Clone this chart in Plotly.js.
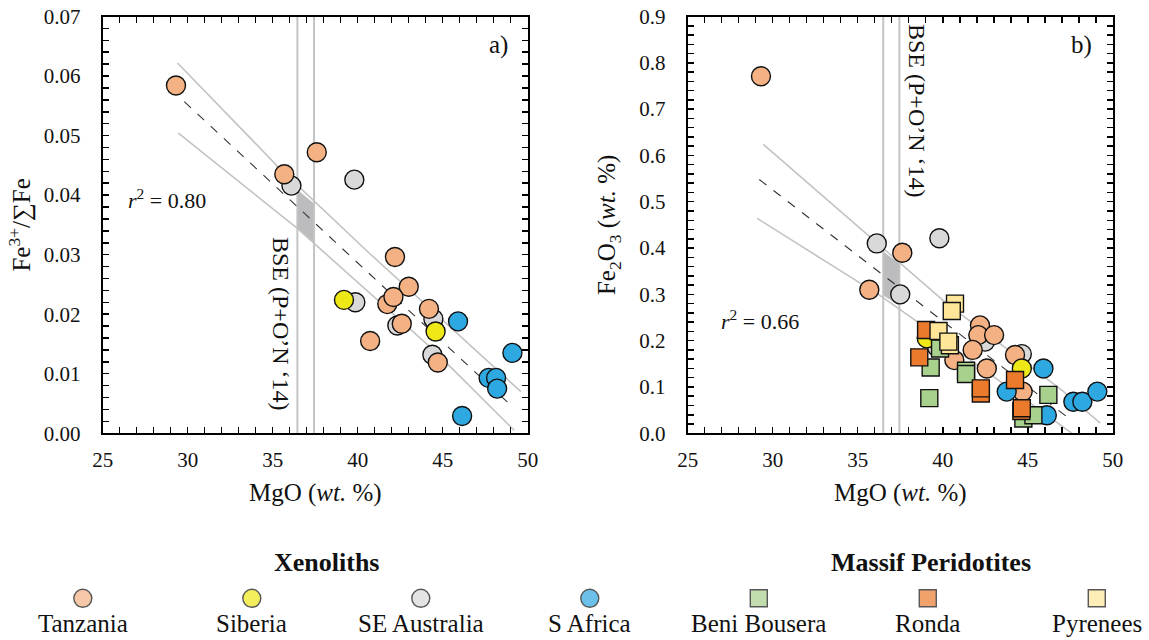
<!DOCTYPE html>
<html><head><meta charset="utf-8">
<script src="https://cdn.plot.ly/plotly-3.0.1.min.js"></script>
<style>html,body{margin:0;padding:0;background:#fff;}#chart{width:1149px;height:640px;}</style>
</head><body><div id="chart"></div>
<script>
// ---------------- DATA ----------------
const categories = ['Tanzania', 'Siberia', 'SE Australia', 'S Africa', 'Beni Bousera', 'Ronda', 'Pyrenees'];
const groupHeaders = ['Xenoliths', 'Massif Peridotites'];

// Panel a) Fe3+/ΣFe vs MgO (wt.%)
const aTanzaniaMgO = [29.31, 37.59, 35.68, 42.19, 43.0, 41.74, 42.1, 44.19, 42.59, 40.73, 44.71];
const aTanzaniaFe  = [0.0584, 0.0472, 0.0435, 0.0296, 0.0246, 0.0217, 0.0229, 0.0209, 0.0184, 0.0155, 0.0119];
const aSiberiaMgO  = [39.19, 44.58];
const aSiberiaFe   = [0.0224, 0.0171];
const aSEAusMgO    = [36.1, 39.8, 39.86, 44.45, 42.33, 44.39];
const aSEAusFe     = [0.0416, 0.0426, 0.0220, 0.0192, 0.0181, 0.0132];
const aSAfricaMgO  = [45.9, 49.1, 47.7, 48.14, 48.2, 46.14];
const aSAfricaFe   = [0.0188, 0.0135, 0.0093, 0.0093, 0.0075, 0.0029];
// regression (dashed) and confidence band lines, panel a
const aFitMgO   = [29.8, 49.12];
const aFitFe    = [0.0557, 0.0044];
const aUpperMgO = [29.4, 35.4, 40.7, 49.6];
const aUpperFe  = [0.0622, 0.0445, 0.0302, 0.0070];
const aLowerMgO = [29.45, 36.45, 44.45, 49.2];
const aLowerFe  = [0.0504, 0.0344, 0.0140, 0.0005];
const aBseMgO   = [36.45, 37.43];
const aBseBandFe = [0.0409, 0.0386, 0.0319, 0.0344]; // top-left, top-right, bottom-right, bottom-left
const aR2 = 0.80;

// Panel b) Fe2O3 (wt.%) vs MgO (wt.%)
const bTanzaniaMgO = [29.31, 37.62, 35.68, 42.19, 42.09, 43.02, 40.68, 41.76, 42.59, 44.25, 44.7];
const bTanzaniaFe  = [0.771, 0.390, 0.310, 0.233, 0.212, 0.212, 0.158, 0.180, 0.140, 0.169, 0.090];
const bSiberiaMgO  = [39.06, 44.65];
const bSiberiaFe   = [0.205, 0.140];
const bSEAusMgO    = [36.12, 39.8, 37.5, 39.65, 42.49, 44.65];
const bSEAusFe     = [0.410, 0.421, 0.300, 0.187, 0.198, 0.171];
const bSAfricaMgO  = [45.92, 43.76, 46.12, 47.68, 48.21, 49.09];
const bSAfricaFe   = [0.140, 0.090, 0.039, 0.068, 0.068, 0.090];
const bBeniMgO     = [39.84, 39.29, 39.21, 41.37, 41.37, 46.21, 44.74, 45.33];
const bBeniFe      = [0.183, 0.142, 0.076, 0.135, 0.128, 0.083, 0.032, 0.039];
const bRondaMgO    = [39.02, 38.62, 42.24, 42.24, 44.25, 44.62, 44.65];
const bRondaFe     = [0.223, 0.164, 0.086, 0.097, 0.115, 0.048, 0.054];
const bPyreneesMgO = [40.72, 40.53, 39.75, 40.42, 40.33];
const bPyreneesFe  = [0.280, 0.264, 0.221, 0.190, 0.198];
const bFitMgO   = [29.21, 47.6];
const bFitFe    = [0.548, 0.027];
const bUpperMgO = [29.45, 40.24, 47.0, 49.26];
const bUpperFe  = [0.624, 0.280, 0.093, 0.022];
const bLowerMgO = [29.09, 36.41, 38.66, 47.6];
const bLowerFe  = [0.464, 0.295, 0.237, 0.0];
const bBseMgO   = [36.5, 37.45];
const bBseBandFe = [0.392, 0.367, 0.275, 0.298];
const bR2 = 0.66;

const xRange = [25, 50];
const aYRange = [0, 0.07];
const bYRange = [0, 0.9];

// ---------------- STYLE ----------------
const FONT = 'Liberation Serif, Times New Roman, serif';
const style = {
  'Tanzania':     {color: '#F4B183', symbol: 'circle'},
  'Siberia':      {color: '#EEE816', symbol: 'circle'},
  'SE Australia': {color: '#D9D9D9', symbol: 'circle'},
  'S Africa':     {color: '#2DA8E0', symbol: 'circle'},
  'Beni Bousera': {color: '#A9D18E', symbol: 'square'},
  'Ronda':        {color: '#EC7A2C', symbol: 'square'},
  'Pyrenees':     {color: '#FFE699', symbol: 'square'}
};
const lineGrey = '#C3C3C3';

function pts(xs, ys, cat, xa, ya) {
  const s = style[cat];
  return {type: 'scatter', mode: 'markers', x: xs, y: ys, xaxis: xa, yaxis: ya, showlegend: false, hoverinfo: 'skip',
    marker: {symbol: s.symbol, color: s.color, size: s.symbol === 'circle' ? 19 : 17, line: {color: '#111', width: 1.4}}};
}
function line(xs, ys, xa, ya, opts) {
  return Object.assign({type: 'scatter', mode: 'lines', x: xs, y: ys, xaxis: xa, yaxis: ya, showlegend: false, hoverinfo: 'skip'}, opts);
}
function panelTraces(p, xa, ya, yr) {
  const t = [];
  t.push(line([p.bse[0], p.bse[1], p.bse[1], p.bse[0], p.bse[0]],
              [p.band[0], p.band[1], p.band[2], p.band[3], p.band[0]], xa, ya,
              {fill: 'toself', fillcolor: '#BCBCBE', line: {width: 0}}));
  p.bse.forEach(v => t.push(line([v, v], yr, xa, ya, {line: {color: lineGrey, width: 2}})));
  t.push(line(p.upX, p.upY, xa, ya, {line: {color: lineGrey, width: 1.6}}));
  t.push(line(p.loX, p.loY, xa, ya, {line: {color: lineGrey, width: 1.6}}));
  t.push(line(p.fitX, p.fitY, xa, ya, {line: {color: '#333', width: 1.1, dash: '9px,9px'}}));
  return t;
}

const traces = [];
traces.push(...panelTraces({bse: aBseMgO, band: aBseBandFe, upX: aUpperMgO, upY: aUpperFe, loX: aLowerMgO, loY: aLowerFe, fitX: aFitMgO, fitY: aFitFe}, 'x', 'y', aYRange));
traces.push(pts(aSEAusMgO, aSEAusFe, 'SE Australia', 'x', 'y'));
traces.push(pts(aTanzaniaMgO, aTanzaniaFe, 'Tanzania', 'x', 'y'));
traces.push(pts(aSiberiaMgO, aSiberiaFe, 'Siberia', 'x', 'y'));
traces.push(pts(aSAfricaMgO, aSAfricaFe, 'S Africa', 'x', 'y'));

traces.push(...panelTraces({bse: bBseMgO, band: bBseBandFe, upX: bUpperMgO, upY: bUpperFe, loX: bLowerMgO, loY: bLowerFe, fitX: bFitMgO, fitY: bFitFe}, 'x2', 'y2', bYRange));
traces.push(pts(bSEAusMgO, bSEAusFe, 'SE Australia', 'x2', 'y2'));
traces.push(pts(bTanzaniaMgO, bTanzaniaFe, 'Tanzania', 'x2', 'y2'));
traces.push(pts(bSiberiaMgO, bSiberiaFe, 'Siberia', 'x2', 'y2'));
traces.push(pts(bSAfricaMgO, bSAfricaFe, 'S Africa', 'x2', 'y2'));
traces.push(pts(bBeniMgO, bBeniFe, 'Beni Bousera', 'x2', 'y2'));
traces.push(pts(bRondaMgO, bRondaFe, 'Ronda', 'x2', 'y2'));
traces.push(pts(bPyreneesMgO, bPyreneesFe, 'Pyrenees', 'x2', 'y2'));

// custom legend (marker above label)
const legIdx = categories.map((c, i) => i);
traces.push({type: 'scatter', mode: 'markers', x: legIdx, y: categories.map(() => 0.5), xaxis: 'x3', yaxis: 'y3',
  showlegend: false, hoverinfo: 'skip',
  marker: {symbol: categories.map(c => style[c].symbol), color: categories.map(c => style[c].color),
           size: categories.map(c => style[c].symbol === 'circle' ? 18 : 17), line: {color: '#111', width: 1.4}}});

// ---------------- LAYOUT ----------------
const xDomA = [0.0894, 0.4593], xDomB = [0.5985, 0.9685], yDom = [0.323, 0.9742];
function xAxis(dom, anchor) {
  return {domain: dom, anchor: anchor, range: xRange, dtick: 5, tick0: 25, ticks: 'inside', ticklen: 6, tickwidth: 1.5, tickcolor: '#000',
    minor: {dtick: 1, ticks: 'inside', ticklen: 6, tickwidth: 1.5, tickcolor: '#000', showgrid: false},
    showline: true, linecolor: '#000', linewidth: 2, mirror: 'allticks', showgrid: false, zeroline: false,
    ticklabelstandoff: 7, tickfont: {family: FONT, size: 21, color: '#111'},
    title: {text: 'MgO (<i>wt.</i> %)', font: {family: FONT, size: 25, color: '#111'}, standoff: 12}};
}
function yAxis(anchor, range, dtick, minor, fmt, title, standoff) {
  return {domain: yDom, anchor: anchor, range: range, dtick: dtick, tick0: 0, tickformat: fmt, ticks: 'inside', ticklen: 6, tickwidth: 1.5, tickcolor: '#000',
    minor: {dtick: minor, ticks: 'inside', ticklen: 6, tickwidth: 1.5, tickcolor: '#000', showgrid: false},
    showline: true, linecolor: '#000', linewidth: 2, mirror: 'allticks', showgrid: false, zeroline: false,
    ticklabelstandoff: 16, tickfont: {family: FONT, size: 21, color: '#111'},
    title: {text: title, font: {family: FONT, size: 25, color: '#111'}, standoff: standoff}};
}
const px = v => v / 1149, py = v => (640 - v) / 640;
const annFont = {family: FONT, size: 22, color: '#111'};
function ann(text, x, y, font, extra) {
  return Object.assign({text: text, x: x, y: y, xref: 'paper', yref: 'paper', xanchor: 'center', yanchor: 'middle', showarrow: false, font: font}, extra || {});
}
const annotations = [
  ann('a)', px(498), py(45), {family: FONT, size: 25, color: '#111'}),
  ann('b)', px(1081), py(45), {family: FONT, size: 25, color: '#111'}),
  ann('<i>r</i><sup>2</sup> = ' + aR2.toFixed(2), px(167), py(199), annFont),
  ann('<i>r</i><sup>2</sup> = ' + bR2.toFixed(2), px(760), py(320), annFont),
  ann('BSE (P+O’N ‘14)', px(281), py(324), {family: FONT, size: 24, color: '#111'}, {textangle: 90}),
  ann('BSE (P+O’N ‘14)', px(917), py(111), {family: FONT, size: 24, color: '#111'}, {textangle: 90}),
  ann('<b>' + groupHeaders[0] + '</b>', px(326), py(562), {family: FONT, size: 26, color: '#111'}),
  ann('<b>' + groupHeaders[1] + '</b>', px(931), py(562), {family: FONT, size: 26, color: '#111'})
];
categories.forEach((c, i) => annotations.push(ann(c, i, py(623), {family: FONT, size: 25, color: '#111'}, {xref: 'x3'})));

const layout = {
  width: 1149, height: 640, margin: {l: 0, r: 0, t: 0, b: 0}, paper_bgcolor: '#fff', plot_bgcolor: '#fff', showlegend: false,
  font: {family: FONT, color: '#111'},
  xaxis: xAxis(xDomA, 'y'),
  yaxis: yAxis('x', aYRange, 0.01, 0.002, '.2f', 'Fe<sup>3+</sup>/∑Fe', 6),
  xaxis2: xAxis(xDomB, 'y2'),
  yaxis2: yAxis('x2', bYRange, 0.1, 0.02, '.1f', 'Fe<sub>2</sub>O<sub>3</sub> (<i>wt.</i> %)', 16),
  xaxis3: {domain: [0, 1], range: [-0.490, 6.309], visible: false, fixedrange: true},
  yaxis3: {domain: [0, 0.2], anchor: 'x3', range: [0.5 - 0.326, 1.5 - 0.326], visible: false, fixedrange: true},
  annotations: annotations
};

Plotly.newPlot('chart', traces, layout, {staticPlot: true, displayModeBar: false});
</script></body></html>
